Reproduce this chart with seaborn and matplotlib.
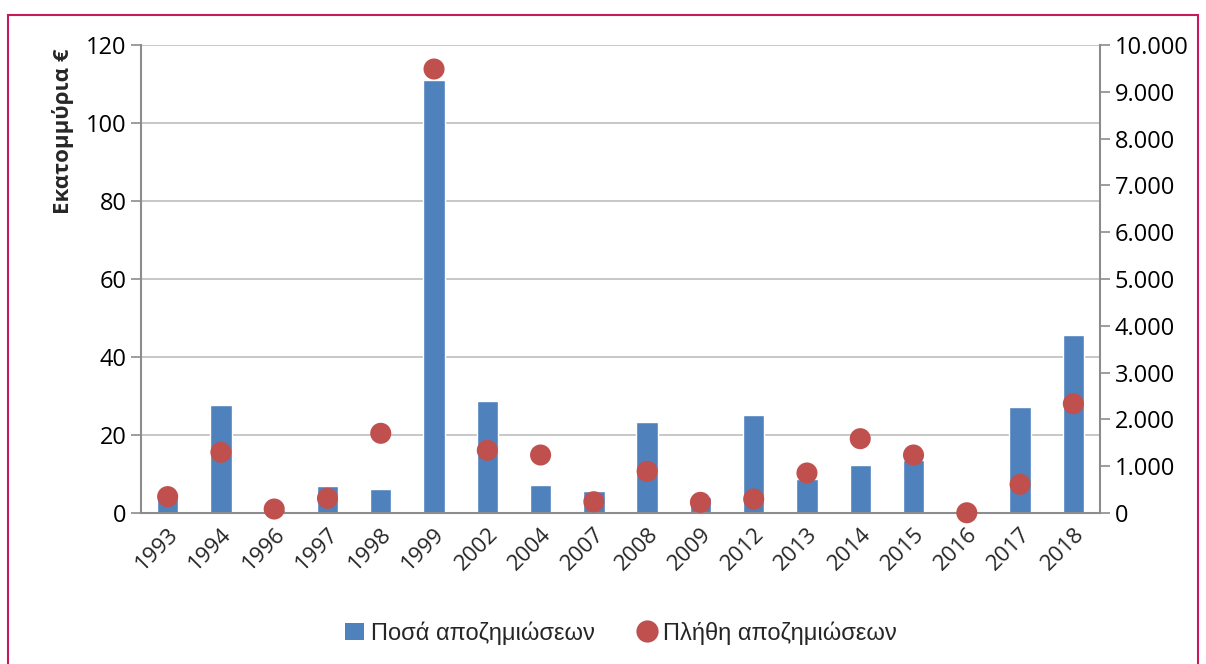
import numpy as np
import pandas as pd
import matplotlib.pyplot as plt
import seaborn as sns
from matplotlib.lines import Line2D
from matplotlib.patches import Patch, Rectangle
from matplotlib.ticker import FuncFormatter

years = ['1993', '1994', '1996', '1997', '1998', '1999', '2002', '2004', '2007',
         '2008', '2009', '2012', '2013', '2014', '2015', '2016', '2017', '2018']
amounts = [4.5, 27.7, 0.8, 6.9, 6.1, 111.0, 28.7, 7.2, 5.7,
           23.3, 4.1, 25.2, 8.7, 12.2, 13.6, 0.0, 27.1, 45.6]
counts = [350, 1297, 85, 314, 1703, 9487, 1340, 1239, 241,
          891, 228, 299, 855, 1588, 1239, 5, 613, 2335]

bar_label = 'Ποσά αποζημιώσεων'
dot_label = 'Πλήθη αποζημιώσεων'
y_label = 'Εκατομμύρια €'

df = pd.DataFrame({'Έτος': years, 'Ποσό': amounts, 'Πλήθος': counts})
df['pos'] = np.arange(len(df))

sns.set_theme(style='white')
plt.rcParams['font.family'] = ['Open Sans', 'DejaVu Sans']

BLUE = '#4F81BD'
RED = '#C0504D'
GRID = '#BEBEBE'
SPINE = '#8C8C8C'

fig = plt.figure(figsize=(12.06, 6.64), dpi=100)
ax = fig.add_axes([141 / 1206, 1 - 513 / 664, 959 / 1206, 468 / 664])

sns.barplot(data=df, x='pos', y='Ποσό', color=BLUE, width=0.4, ax=ax,
            saturation=1, errorbar=None, native_scale=True)
ax.set_xlim(-0.5, len(df) - 0.5)
ax.set_ylim(0, 120)
ax.set_yticks(range(0, 121, 20))
ax.yaxis.grid(True, color=GRID, lw=1.2)
ax.set_axisbelow(True)

ax2 = ax.twinx()
sns.scatterplot(data=df, x='pos', y='Πλήθος', color=RED, s=230, edgecolor='none',
                ax=ax2, zorder=5, clip_on=False)
ax2.set_ylim(0, 10000)
ax2.set_yticks(range(0, 10001, 1000))
ax2.yaxis.set_major_formatter(FuncFormatter(lambda v, p: f'{int(v):,}'.replace(',', '.')))
ax2.set_ylabel('')
ax2.set_xlim(-0.5, len(df) - 0.5)

for a in (ax, ax2):
    for s in a.spines.values():
        s.set_visible(False)
    a.tick_params(axis='y', labelsize=17, colors=SPINE, labelcolor='black',
                  length=7, width=1.2, direction='out')

ax.spines['left'].set_visible(True)
ax.spines['bottom'].set_visible(True)
ax2.spines['right'].set_visible(True)
for s in (ax.spines['left'], ax.spines['bottom'], ax2.spines['right']):
    s.set_color(SPINE)
    s.set_linewidth(1.5)

ax.set_xticks(df['pos'])
ax.set_xticklabels(years, rotation=45, ha='right', rotation_mode='anchor', fontsize=16)
ax.tick_params(axis='x', which='major', length=0, pad=8)
ax.set_xticks(np.arange(-0.5, len(df)), minor=True)
ax.tick_params(axis='x', which='minor', length=7, width=1.2, color=SPINE, direction='out')
ax.set_xlabel('')
ax.set_ylabel(y_label, fontsize=16, fontweight='bold')
ax.yaxis.set_label_coords(-0.07, 0.815)

handles = [Patch(facecolor=BLUE, edgecolor='none', label=bar_label),
           Line2D([0], [0], marker='o', color='none', markerfacecolor=RED,
                  markeredgecolor='none', markersize=16, label=dot_label)]
leg = fig.legend(handles=handles, loc='center', bbox_to_anchor=(0.515, 1 - 633 / 664),
                 ncol=2, frameon=False, handlelength=0.8, handletextpad=0.3,
                 columnspacing=1.8, prop={'family': ['Liberation Sans', 'DejaVu Sans'], 'size': 17})

fig.patches.append(Rectangle((8 / 1206, -0.05), 1190 / 1206, 1.05 - 15 / 664,
                             transform=fig.transFigure, fill=False,
                             edgecolor='#C8195A', lw=1.5))

fig.savefig('out.png', dpi=100)
